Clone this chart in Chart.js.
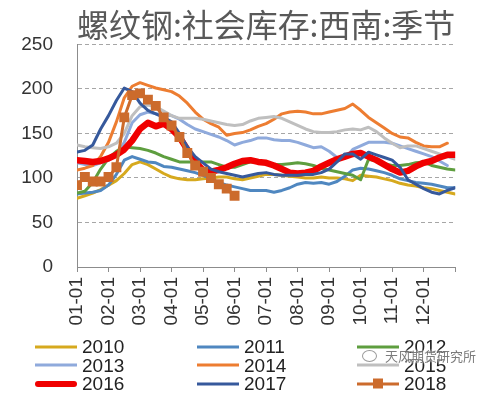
<!DOCTYPE html>
<html lang="zh">
<head>
  <meta charset="UTF-8">
  <title>螺纹钢:社会库存:西南:季节</title>
  <script src="https://cdn.jsdelivr.net/npm/chart.js"></script>
  <style>
    body { margin: 0; background: #fff; }
    #wrap { position: relative; width: 483px; height: 394px; overflow: hidden; }
    #legend { position: absolute; left: 0; top: 337px; width: 483px; font-family: "Liberation Sans", Arial, sans-serif; font-size: 19px; color: #222; }
    .item { position: absolute; height: 19px; line-height: 19px; }
    .swatch { position: absolute; left: 0; top: 50%; width: 42px; transform: translateY(-50%); }
    .swatch .sq { position: absolute; left: 16px; top: 50%; width: 10px; height: 10px; transform: translateY(-50%); }
    .txt { position: absolute; left: 47px; top: 0; white-space: nowrap; }
    #mark { position: absolute; left: 362px; top: 346px; font-family: "Noto Sans CJK SC", sans-serif; font-size: 13px; color: rgba(80,80,80,0.75); text-shadow: 0 0 2px #fff, 0 0 2px #fff; white-space: nowrap; }
    #mark i { display: inline-block; width: 13px; height: 10px; border: 1.5px solid rgba(110,110,110,0.7); border-radius: 50%; margin-right: 8px; vertical-align: -1px; }
  </style>
</head>
<body>
<div id="wrap">
  <canvas id="chart" width="483" height="394"></canvas>
  <div id="legend"></div>
  <div id="mark"><i></i>天风期货研究所</div>
</div>
<script>
  // 周度数据, 每月4个点, 第0点 = 01-01, 第48点 = 年末
  const monthLabels = ['01-01','02-01','03-01','04-01','05-01','06-01','07-01','08-01','09-01','10-01','11-01','12-01'];
  const years = ['2010','2011','2012','2013','2014','2015','2016','2017','2018'];

  const s2010 = [77,80,83,87,92,97,105,115,118,115,110,105,101,99,98,98,99,100,101,101,99,98,100,102,104,104,103,102,101,100,100,101,100,100,99,97,103,102,101,99,97,94,92,91,89,88,86,84,82];
  const s2011 = [82,83,84,86,92,104,120,124,121,118,117,113,112,110,108,106,103,99,95,92,90,88,86,86,86,84,86,89,93,95,94,95,93,96,102,109,111,110,108,106,103,99,97,95,94,93,91,89,89];
  const s2012 = [83,85,95,110,122,130,135,134,133,131,128,124,121,118,118,118,118,118,115,112,112,115,118,118,116,115,115,116,117,116,114,111,109,107,105,103,98,121,119,116,114,114,115,117,118,114,112,110,109];
  const s2013 = [117,115,114,117,120,125,140,162,171,174,172,171,170,166,160,155,152,149,146,142,137,140,142,145,145,143,142,142,140,137,134,135,130,123,122,132,136,140,140,140,139,136,133,130,127,124,119,114,null];
  const s2014 = [109,111,114,124,140,163,190,203,207,204,201,199,197,192,184,174,166,161,157,148,150,151,154,158,161,166,172,174,175,174,172,172,174,176,178,183,176,168,162,156,150,146,145,140,136,135,135,139,null];
  const s2015 = [137,135,134,133,135,139,150,170,180,182,180,175,170,167,167,167,166,164,162,160,159,160,164,167,168,169,167,163,159,155,152,151,151,152,154,155,154,157,152,145,139,134,136,136,133,130,127,124,121];
  const s2016 = [120,119,118,119,122,126,132,142,155,162,158,161,155,146,132,118,109,107,109,112,116,119,120,118,117,114,110,106,105,106,108,113,117,121,124,127,128,124,120,115,110,106,108,113,117,119,123,126,126];
  const s2017 = [129,131,137,155,170,187,201,197,184,176,172,168,163,150,135,124,117,110,107,105,103,101,103,105,106,104,103,103,103,104,104,106,110,118,127,127,121,129,126,123,120,112,98,93,88,84,82,86,89];
  const s2018 = [92,101,96,96,101,112,168,193,195,188,181,168,159,146,128,114,107,100,93,88,80];
  const series = [s2010, s2011, s2012, s2013, s2014, s2015, s2016, s2017, s2018];

  const colors = ['#D6A91E','#4F87C0','#5E9E3F','#8FAADC','#ED7D31','#BFBFBF','#F00000','#36599C','#CC6B2C'];
  const widths = [3, 3, 3, 3, 3, 3, 6.5, 3, 3];

  const datasets = series.map((vals, i) => ({
    label: years[i],
    data: vals.map((v, k) => ({ x: k, y: v })),
    borderColor: colors[i],
    backgroundColor: colors[i],
    borderWidth: widths[i],
    borderJoinStyle: 'round',
    borderCapStyle: 'round',
    tension: 0,
    pointRadius: years[i] === '2018' ? 7 : 0,
    pointStyle: 'rect',
    pointBorderWidth: 0,
    order: series.length - i
  }));

  new Chart(document.getElementById('chart'), {
    type: 'line',
    data: { datasets },
    options: {
      responsive: false,
      animation: false,
      layout: { padding: { left: 0, right: 23, top: 0, bottom: 0 } },
      plugins: {
        legend: { display: false },
        tooltip: { enabled: false },
        title: {
          display: true,
          text: '螺纹钢:社会库存:西南:季节',
          fullSize: false,
          color: '#595959',
          font: { family: '"Noto Sans CJK SC", sans-serif', size: 32, weight: 'normal', lineHeight: 1.2 },
          padding: { top: 6, bottom: 0 }
        }
      },
      scales: {
        x: {
          type: 'linear',
          min: 0,
          max: 48,
          afterFit: s => { s.height = 127; },
          afterBuildTicks: s => { s.ticks = monthLabels.map((m, k) => ({ value: k * 4 })).concat([{ value: 48 }]); },
          ticks: {
            autoSkip: false,
            minRotation: 90,
            maxRotation: 90,
            padding: 5,
            color: '#333',
            font: { family: '"Liberation Sans", Arial, sans-serif', size: 19 },
            callback: v => monthLabels[v / 4] || ''
          },
          grid: { drawOnChartArea: false, drawTicks: true, tickLength: 5, tickColor: '#8C8C8C' },
          border: { display: true, color: '#8C8C8C', width: 1 }
        },
        y: {
          min: 0,
          max: 250,
          afterFit: s => { s.width = 77; },
          ticks: {
            stepSize: 50,
            padding: 24,
            color: '#333',
            font: { family: '"Liberation Sans", Arial, sans-serif', size: 19 }
          },
          grid: {
            drawTicks: false,
            color: c => c.tick && c.tick.value === 0 ? 'rgba(0,0,0,0)' : '#A6A6A6'
          },
          border: { display: true, color: '#8C8C8C', width: 1, dash: [4, 3] }
        }
      }
    }
  });

  // 图例: 三列三行
  const legend = document.getElementById('legend');
  const colX = [35, 197, 357];
  const rowY = [0, 18.5, 37];
  years.forEach((y, i) => {
    const it = document.createElement('div');
    it.className = 'item';
    it.style.left = colX[i % 3] + 'px';
    it.style.top = rowY[Math.floor(i / 3)] + 'px';
    const sw = document.createElement('div');
    sw.className = 'swatch';
    sw.style.height = (y === '2016' ? 6 : 3) + 'px';
    sw.style.background = colors[i];
    sw.style.borderRadius = y === '2016' ? '3px' : '0';
    if (y === '2018') {
      const sq = document.createElement('div');
      sq.className = 'sq';
      sq.style.background = colors[i];
      sw.appendChild(sq);
    }
    const tx = document.createElement('div');
    tx.className = 'txt';
    tx.textContent = y;
    it.appendChild(sw);
    it.appendChild(tx);
    legend.appendChild(it);
  });
</script>
</body>
</html>
